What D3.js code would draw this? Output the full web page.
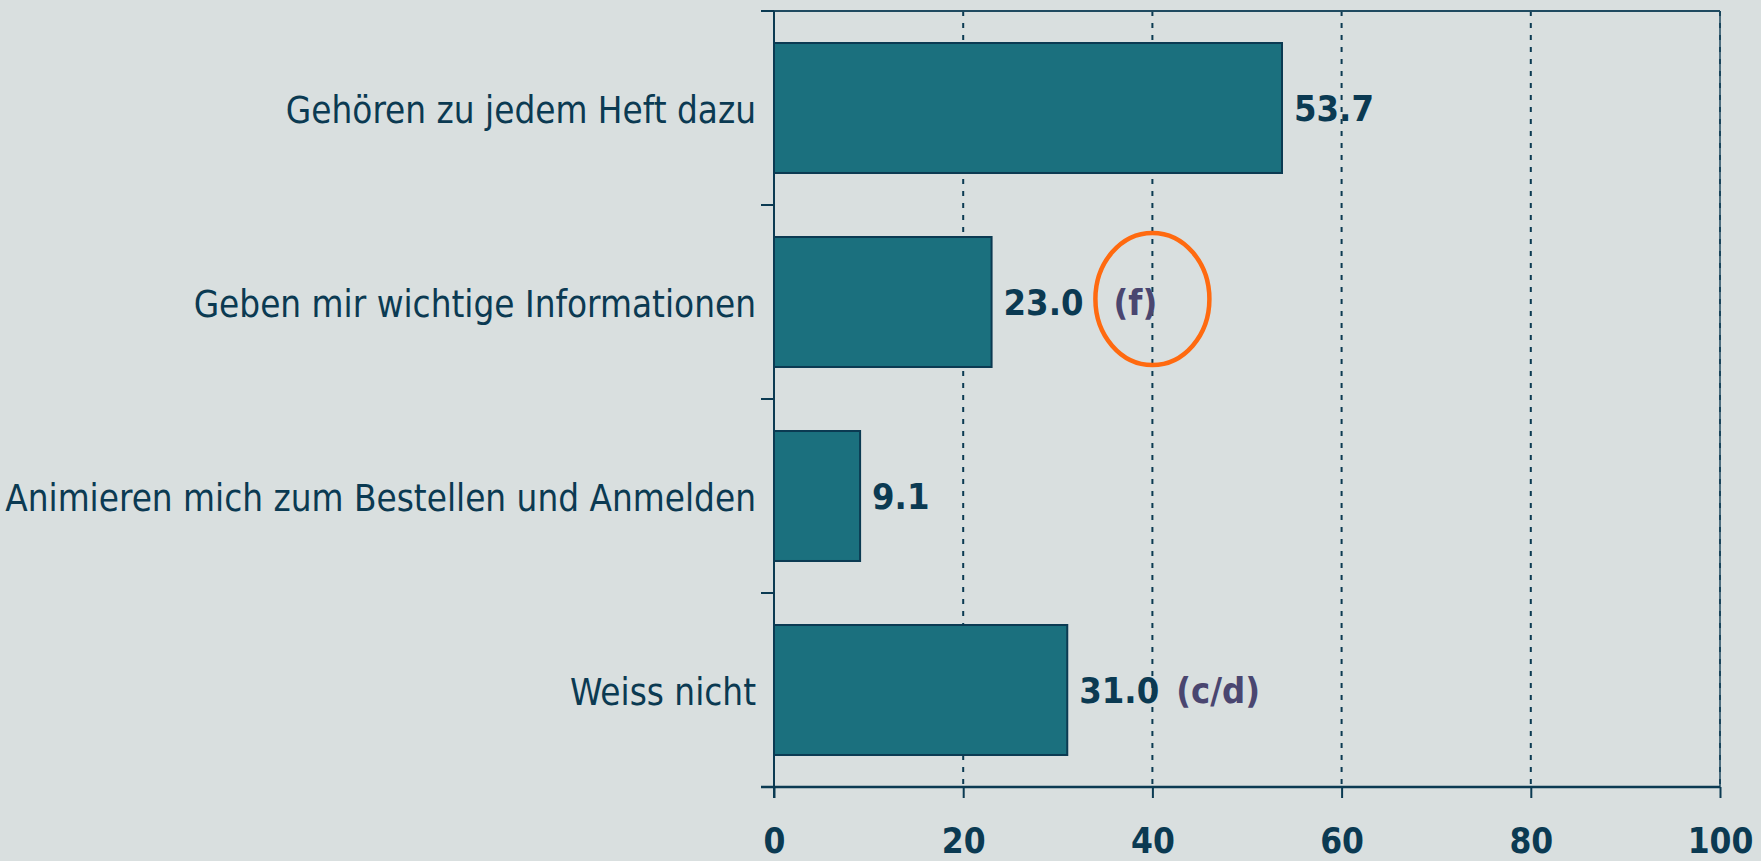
<!DOCTYPE html>
<html><head><meta charset="utf-8">
<script src="https://cdn.jsdelivr.net/npm/d3@7"></script>
<style>html,body{margin:0;padding:0;background:#d9dfdf;}svg{display:block;}</style>
</head><body>
<script>
const categories = ["Gehören zu jedem Heft dazu","Geben mir wichtige Informationen","Animieren mich zum Bestellen und Anmelden","Weiss nicht"];
const values = [53.7, 23.0, 9.1, 31.0];
const valueLabels = ["53.7","23.0","9.1","31.0"];
const notes = ["", "(f)", "", "(c/d)"];
const highlighted = [false, true, false, false];
const xTicks = [0,20,40,60,80,100];

(function(){
const W = 1761, H = 861;
const pl = 774, pr = 1720, pt = 11, pb = 787;
const navy = "#0b3a52", barFill = "#1b707e", noteColor = "#4a4670", orange = "#ff6a10";
const font = "'DejaVu Sans Condensed', 'DejaVu Sans', Verdana, sans-serif";

const svg = d3.select("body").append("svg").attr("width", W).attr("height", H);
svg.append("rect").attr("width", W).attr("height", H).attr("fill", "#d9dfdf");

const x = d3.scaleLinear().domain([0,100]).range([pl, pr]);
const y = d3.scaleBand().domain(categories).range([pt, pb]).paddingInner(0.33).paddingOuter(0.165);
const mid = d => y(d) + y.bandwidth()/2;

// gridlines
svg.append("g").selectAll("line").data(xTicks.filter(d => d > 0)).join("line")
  .attr("x1", d => x(d)).attr("x2", d => x(d)).attr("y1", pt).attr("y2", pb)
  .attr("stroke", navy).attr("stroke-width", 2).attr("stroke-dasharray", "5,7");

// frame top and right
svg.append("line").attr("x1", pl - 13).attr("x2", pr).attr("y1", pt).attr("y2", pt)
  .attr("stroke", "#1f4a60").attr("stroke-width", 2);
svg.append("line").attr("x1", pr).attr("x2", pr).attr("y1", pt).attr("y2", pb)
  .attr("stroke", "#1f4a60").attr("stroke-width", 1.5);

// bars
svg.append("g").selectAll("rect").data(categories).join("rect")
  .attr("x", x(0)).attr("y", d => y(d))
  .attr("width", (d,i) => x(values[i]) - x(0)).attr("height", y.bandwidth())
  .attr("fill", barFill).attr("stroke", navy).attr("stroke-width", 2);

// y axis line and boundary ticks
svg.append("line").attr("x1", pl).attr("x2", pl).attr("y1", pt).attr("y2", pb + 11)
  .attr("stroke", navy).attr("stroke-width", 2);
const bounds = d3.range(categories.length + 1).map(i => pt + i * y.step());
svg.append("g").selectAll("line").data(bounds).join("line")
  .attr("x1", pl - 13).attr("x2", pl).attr("y1", d => d).attr("y2", d => d)
  .attr("stroke", navy).attr("stroke-width", 2);

// category labels
svg.append("g").selectAll("text").data(categories).join("text")
  .attr("x", pl - 18).attr("y", d => mid(d) + 15)
  .attr("text-anchor", "end")
  .attr("font-family", font).attr("font-size", 36.5)
  .attr("fill", navy).text(d => d);

// x axis
const xAxis = svg.append("g").attr("transform", `translate(0,${pb})`)
  .call(d3.axisBottom(x).tickValues(xTicks).tickSize(11).tickSizeOuter(0).tickFormat(d3.format("d")));
xAxis.select(".domain").attr("stroke", navy).attr("stroke-width", 2.5).attr("d", `M${pl-13},0H${pr}`);
xAxis.selectAll(".tick line").attr("stroke", navy).attr("stroke-width", 2);
xAxis.selectAll(".tick text").attr("y", 66).attr("dy", 0)
  .attr("font-family", font).attr("font-size", 35)
  .attr("font-weight", "bold").attr("fill", navy);

// value labels
const vl = svg.append("g").selectAll("text").data(categories).join("text")
  .attr("x", (d,i) => x(values[i]) + 12).attr("y", d => mid(d) + 13)
  .attr("font-family", font).attr("font-size", 36)
  .attr("font-weight", "bold").attr("fill", navy);
vl.append("tspan").text((d,i) => valueLabels[i]);
vl.append("tspan").attr("fill", noteColor).attr("dx", (d,i) => highlighted[i] ? 30 : 17).text((d,i) => notes[i]);

// highlight ellipse
svg.append("g").selectAll("ellipse").data(categories.filter((d,i) => highlighted[i])).join("ellipse")
  .attr("cx", x(40)).attr("cy", d => mid(d) - 3)
  .attr("rx", 57).attr("ry", 66)
  .attr("fill", "none").attr("stroke", orange).attr("stroke-width", 4.5);
})();
</script>
</body></html>
